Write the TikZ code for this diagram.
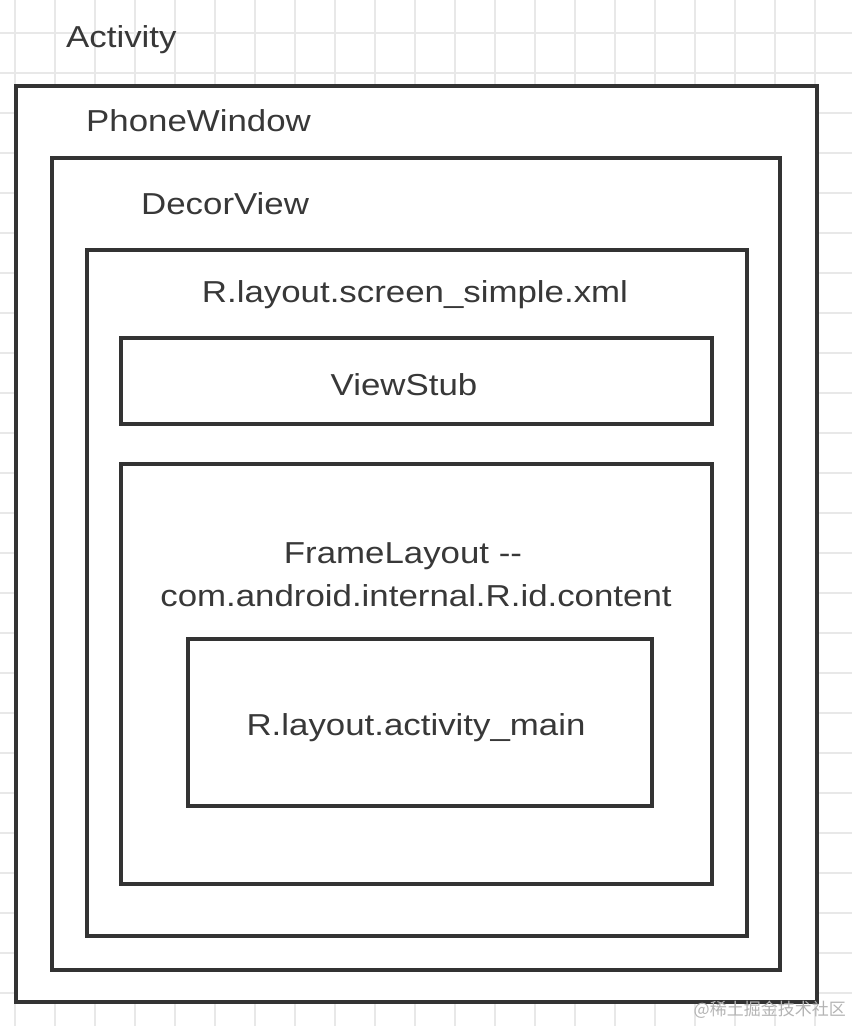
\documentclass[tikz,border=0pt]{standalone}
\usepackage{fontspec}
\setmainfont{Liberation Sans}[FakeStretch=1.15]
\newfontfamily\cjk{Noto Sans CJK SC}
\definecolor{ink}{HTML}{333333}
\definecolor{txt}{HTML}{383838}
\definecolor{gridc}{HTML}{E8E8E8}
\definecolor{wm}{HTML}{B4B4B4}
\begin{document}
\begin{tikzpicture}[x=1pt,y=-1pt,
  gridline/.style={draw=gridc,line width=1.3pt},
  box/.style={draw=ink,line width=4pt,fill=white,rectangle,inner sep=0pt},
  lbl/.style={text=txt,inner sep=0pt,font=\fontsize{30.3}{43}\selectfont},
  wmark/.style={text=wm,inner sep=0pt,font=\cjk\fontsize{17}{20}\selectfont}]
\useasboundingbox (0,0) rectangle (852,1026);
\fill[white] (0,0) rectangle (852,1026);
\foreach \x in {15,55,...,815} \draw[gridline] (\x,0) -- (\x,1026);
\foreach \y in {33,73,...,1013} \draw[gridline] (0,\y) -- (852,\y);
% boxes
\node[box,minimum width=800.8pt,minimum height=915.7pt] (phone) at (416.1,543.85) {};
\node[box,minimum width=728.3pt,minimum height=812pt] (decor) at (416.15,564) {};
\node[box,minimum width=660pt,minimum height=685.5pt] (screen) at (416.5,592.75) {};
\node[box,minimum width=591.3pt,minimum height=86pt] (stub) at (416.15,381.3) {};
\node[box,minimum width=591pt,minimum height=420.3pt] (frame) at (416,674.15) {};
\node[box,minimum width=464pt,minimum height=167pt] (main) at (420,722.5) {};
% labels
\node[lbl,anchor=base west] (tActivity) at (66,47) {Activity};
\node[lbl,anchor=base west] (tPhone) at (86,131.7) {PhoneWindow};
\node[lbl,anchor=base west] (tDecor) at (141,214) {DecorView};
\node[lbl,anchor=base] (tScreen) at (415,302.3) {R.layout.screen\_simple.xml};
\node[lbl,anchor=base] (tStub) at (404,395) {ViewStub};
\node[lbl,anchor=base] (tFrame) at (403,563.3) {FrameLayout -{}-};
\node[lbl,anchor=base] (tContent) at (416,606) {com.android.internal.R.id.content};
\node[lbl,anchor=base] (tMain) at (416,735) {R.layout.activity\_main};
\node[wmark,anchor=base east] (wmk) at (846,1015) {@稀土掘金技术社区};
\end{tikzpicture}
\end{document}
